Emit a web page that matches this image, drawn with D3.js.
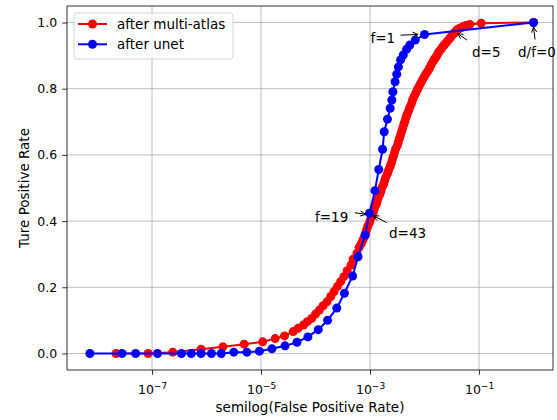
<!DOCTYPE html>
<html>
<head>
<meta charset="utf-8">
<script src="https://d3js.org/d3.v7.min.js"></script>
<style>
body { margin: 0; background: #fff; }
text { font-family: "DejaVu Sans", sans-serif; fill: #000; }
.grid line { stroke: #b0b0b0; stroke-width: 0.8; }
.axis path { display: none; }
.axis line { stroke: #000; stroke-width: 0.8; }
.note line { stroke: #000; stroke-width: 1; }
</style>
</head>
<body>
<div id="chart"></div>
<script>

// x values are log10(false positive rate)
var atlasFprExp = [-7.66, -7.07, -6.62, -6.10, -5.70, -5.31, -4.97, -4.74, -4.57, -4.41,
  -4.32, -4.22, -4.15, -4.07, -4.00, -3.93, -3.86, -3.79, -3.72, -3.66,
  -3.60, -3.54, -3.48, -3.42, -3.35, -3.31, -3.24, -3.20, -3.16, -3.13,
  -3.10, -3.08, -3.06, -3.04, -3.01, -2.99, -2.96, -2.94, -2.92, -2.89,
  -2.87, -2.85, -2.82, -2.80, -2.78, -2.75, -2.73, -2.71, -2.68, -2.66,
  -2.63, -2.61, -2.59, -2.57, -2.55, -2.53, -2.50, -2.48, -2.46, -2.44,
  -2.42, -2.40, -2.38, -2.36, -2.34, -2.32, -2.29, -2.27, -2.24, -2.22,
  -2.19, -2.16, -2.13, -2.10, -2.07, -2.04, -2.01, -1.98, -1.94, -1.91,
  -1.88, -1.85, -1.82, -1.79, -1.76, -1.74, -1.70, -1.67, -1.64, -1.61,
  -1.58, -1.55, -1.52, -1.49, -1.46, -1.44, -1.41, -1.39, -1.35, -1.31,
  -1.27, -1.24, -1.17, -0.96, 0];
var atlasTpr = [0, 0, 0.004, 0.013, 0.020, 0.028, 0.035, 0.045, 0.053, 0.066,
  0.076, 0.086, 0.096, 0.106, 0.119, 0.131, 0.144, 0.156, 0.172, 0.187,
  0.202, 0.217, 0.232, 0.250, 0.267, 0.285, 0.303, 0.321, 0.332, 0.343,
  0.354, 0.364, 0.375, 0.385, 0.396, 0.406, 0.417, 0.427, 0.438, 0.449,
  0.459, 0.470, 0.481, 0.491, 0.502, 0.512, 0.523, 0.533, 0.544, 0.554,
  0.565, 0.575, 0.586, 0.596, 0.607, 0.618, 0.628, 0.639, 0.650, 0.660,
  0.671, 0.681, 0.692, 0.702, 0.713, 0.723, 0.734, 0.744, 0.755, 0.766,
  0.777, 0.787, 0.798, 0.808, 0.817, 0.826, 0.835, 0.844, 0.853, 0.862,
  0.872, 0.881, 0.889, 0.896, 0.904, 0.911, 0.919, 0.926, 0.932, 0.938,
  0.944, 0.950, 0.956, 0.962, 0.967, 0.971, 0.976, 0.980, 0.983, 0.986,
  0.989, 0.991, 0.994, 0.998, 1.0];

var unetFprExp = [-8.14, -7.55, -7.30, -6.90, -6.46, -6.28, -6.10, -5.91, -5.73, -5.50,
  -5.26, -5.03, -4.80, -4.56, -4.34, -4.14, -3.95, -3.78, -3.61, -3.47,
  -3.32, -3.22, -3.09, -3.01, -2.91, -2.84, -2.77, -2.74, -2.68, -2.63,
  -2.60, -2.58, -2.54, -2.51, -2.48, -2.44, -2.39, -2.33, -2.27, -2.17,
  -2.00, 0];
var unetTpr = [0, 0, 0, 0, 0, 0, 0, 0, 0, 0.004,
  0.004, 0.007, 0.014, 0.023, 0.034, 0.050, 0.072, 0.100, 0.137, 0.182,
  0.234, 0.292, 0.358, 0.424, 0.492, 0.556, 0.617, 0.670, 0.708, 0.741,
  0.766, 0.791, 0.821, 0.844, 0.866, 0.887, 0.902, 0.919, 0.932, 0.947,
  0.964, 1.0];

var seriesNames = ["after multi-atlas", "after unet"];
var seriesColors = ["#ff0000", "#0000ff"];
var xTickExp = [-7, -5, -3, -1];
var yTicks = [0, 0.2, 0.4, 0.6, 0.8, 1.0];

// annotated points: which series and the x exponent of the point
var noteLabels = ["f=1", "d=5", "d/f=0", "f=19", "d=43"];
var noteSeries = [1, 0, 1, 1, 0];
var noteAt = [-2.00, -1.44, 0, -3.01, -2.94];

var W = 557, H = 420;
var margin = {top: 6, right: 4, bottom: 50, left: 67},
    width = W - margin.left - margin.right,
    height = H - margin.top - margin.bottom;

var svg = d3.select("#chart").append("svg")
    .attr("width", W)
    .attr("height", H);

var g = svg.append("g")
    .attr("transform", "translate(" + margin.left + "," + margin.top + ")");

var x = d3.scaleLog()
    .domain([Math.pow(10, -8.56), Math.pow(10, 0.357)])
    .range([0, width]);
var y = d3.scaleLinear()
    .domain([-0.05, 1.05])
    .range([height, 0]);

function pairs(ex, ys) {
  return ex.map(function(e, i) { return [Math.pow(10, e), ys[i]]; });
}
var series = [pairs(atlasFprExp, atlasTpr), pairs(unetFprExp, unetTpr)];

// grid
var grid = g.append("g").attr("class", "grid");
grid.selectAll(".vx")
  .data(xTickExp)
  .enter().append("line")
    .attr("x1", function(d) { return x(Math.pow(10, d)); })
    .attr("x2", function(d) { return x(Math.pow(10, d)); })
    .attr("y1", 0)
    .attr("y2", height);
grid.selectAll(".hy")
  .data(yTicks)
  .enter().append("line")
    .attr("x1", 0)
    .attr("x2", width)
    .attr("y1", function(d) { return y(d); })
    .attr("y2", function(d) { return y(d); });

// axes
var gx = g.append("g")
    .attr("class", "axis")
    .attr("transform", "translate(0," + height + ")")
    .call(d3.axisBottom(x)
      .tickValues(xTickExp.map(function(e) { return Math.pow(10, e); }))
      .tickSize(4.8)
      .tickFormat(function() { return "10"; }));
gx.attr("font-size", 12.5).attr("font-family", "DejaVu Sans");
gx.selectAll(".tick text")
    .attr("y", 15)
    .each(function(d) {
      var e = Math.round(Math.log10(d));
      d3.select(this).append("tspan")
        .attr("dy", -5)
        .attr("font-size", 9)
        .text("\u2212" + Math.abs(e));
    });

var gy = g.append("g")
    .attr("class", "axis")
    .call(d3.axisLeft(y)
      .tickValues(yTicks)
      .tickSize(4.8)
      .tickPadding(5)
      .tickFormat(d3.format(".1f")));
gy.attr("font-size", 12.5).attr("font-family", "DejaVu Sans");

g.append("rect")
    .attr("width", width)
    .attr("height", height)
    .attr("fill", "none")
    .attr("stroke", "#000")
    .attr("stroke-width", 0.8);

// curves
var line = d3.line()
    .x(function(d) { return x(d[0]); })
    .y(function(d) { return y(d[1]); });

series.forEach(function(s, i) {
  g.append("path")
      .datum(s)
      .attr("fill", "none")
      .attr("stroke", seriesColors[i])
      .attr("stroke-width", 2)
      .attr("d", line);
  g.selectAll(".dot" + i)
    .data(s)
    .enter().append("circle")
      .attr("cx", function(d) { return x(d[0]); })
      .attr("cy", function(d) { return y(d[1]); })
      .attr("r", 4.5)
      .attr("fill", seriesColors[i]);
});

// annotations: text offset (tx, ty) and arrow tail / tip offsets from the point
var noteLayout = [
  {tx: -54, ty: 8.7, ax: -24, ay: 0.7, bx: -6.5, by: 0},
  {tx: 17, ty: 25, ax: 12, ay: 8, bx: 2.5, by: 1.3},
  {tx: -15.5, ty: 34.7, ax: 1.5, ay: 17, bx: 0, by: 4.4},
  {tx: -54.5, ty: 9, ax: -14.5, ay: -0.4, bx: -3.8, by: 1.2},
  {tx: 15.7, ty: 25.8, ax: 13.4, ay: 10.5, bx: 0, by: 3.5}
];

function arrow(sel, x1, y1, x2, y2) {
  var a = Math.atan2(y2 - y1, x2 - x1), len = 5.5, w = 2.6;
  var bx = x2 - len * Math.cos(a), by = y2 - len * Math.sin(a);
  sel.append("line").attr("x1", x1).attr("y1", y1).attr("x2", x2).attr("y2", y2);
  sel.append("line").attr("x1", x2).attr("y1", y2)
    .attr("x2", bx + w * Math.sin(a)).attr("y2", by - w * Math.cos(a));
  sel.append("line").attr("x1", x2).attr("y1", y2)
    .attr("x2", bx - w * Math.sin(a)).attr("y2", by + w * Math.cos(a));
}

noteLabels.forEach(function(lab, i) {
  var s = noteSeries[i];
  var ex = s === 0 ? atlasFprExp : unetFprExp;
  var ys = s === 0 ? atlasTpr : unetTpr;
  var k = ex.indexOf(noteAt[i]);
  var px = x(Math.pow(10, ex[k])), py = y(ys[k]);
  var L = noteLayout[i];
  var n = g.append("g").attr("class", "note");
  arrow(n, px + L.ax, py + L.ay, px + L.bx, py + L.by);
  n.append("text")
      .attr("x", px + L.tx)
      .attr("y", py + L.ty)
      .attr("font-size", 13.5)
      .text(lab);
});

// legend
var legend = g.append("g").attr("transform", "translate(7,7)");
legend.append("rect")
    .attr("width", 159)
    .attr("height", 46)
    .attr("rx", 3)
    .attr("fill", "#fff")
    .attr("fill-opacity", 0.8)
    .attr("stroke", "#cccccc")
    .attr("stroke-width", 0.8);
seriesNames.forEach(function(name, i) {
  var row = legend.append("g").attr("transform", "translate(0," + (11 + i * 20.3) + ")");
  row.append("line")
      .attr("x1", 4).attr("x2", 33)
      .attr("stroke", seriesColors[i])
      .attr("stroke-width", 2);
  row.append("circle")
      .attr("cx", 18.5)
      .attr("r", 4.5)
      .attr("fill", seriesColors[i]);
  row.append("text")
      .attr("x", 43)
      .attr("dy", "0.35em")
      .attr("font-size", 13.5)
      .text(name);
});

// axis labels
svg.append("text")
    .attr("x", margin.left + width / 2)
    .attr("y", 412)
    .attr("text-anchor", "middle")
    .attr("font-size", 13.5)
    .text("semilog(False Positive Rate)");

svg.append("text")
    .attr("transform", "translate(24," + (margin.top + height / 2) + ") rotate(-90)")
    .attr("text-anchor", "middle")
    .attr("dy", "0.35em")
    .attr("font-size", 13.5)
    .text("Ture Positive Rate");

</script>
</body>
</html>
